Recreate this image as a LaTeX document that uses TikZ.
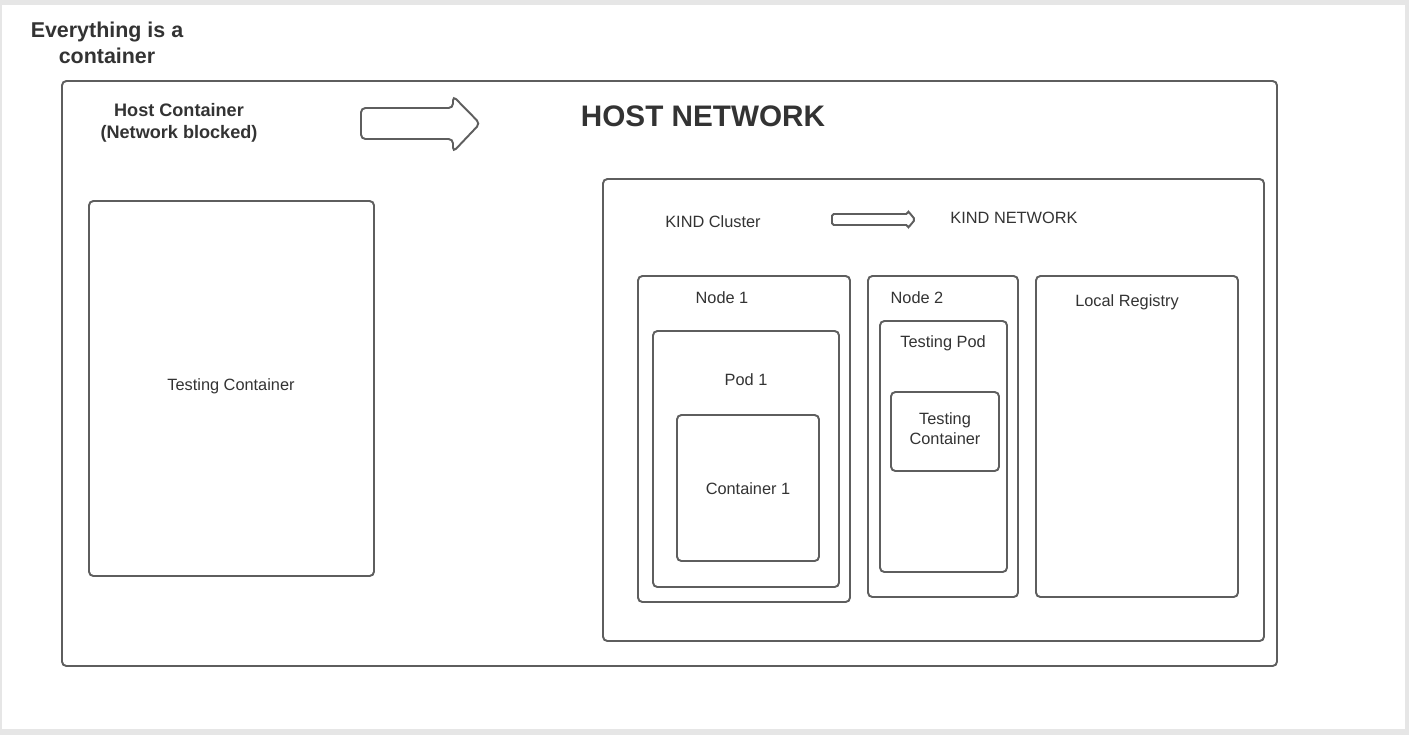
\documentclass[tikz,border=0pt]{standalone}
\usepackage{fontspec}
\setmainfont{Liberation Sans}
\definecolor{linegray}{HTML}{5E5E5E}
\definecolor{textgray}{HTML}{333333}
\definecolor{framegray}{HTML}{E6E6E6}
\begin{document}
\begin{tikzpicture}[x=0.02cm, y=-0.02cm,
  box/.style={draw=linegray, line width=1.1pt, rounded corners=2.5pt},
  lbl/.style={text=textgray, font=\fontsize{9.3}{11.3}\selectfont, align=center, inner sep=0pt},
  title/.style={text=textgray, font=\bfseries\fontsize{10.3}{12.5}\selectfont, align=center, inner sep=0pt}]
\useasboundingbox (0,0) rectangle (1409,735);
\fill[framegray] (0,0) rectangle (1409,735);
\fill[white] (2,5) rectangle (1405,729);
\draw[box] (62,81) rectangle (1277,666);
\draw[box] (89,201) rectangle (374,576);
\draw[box] (603,179) rectangle (1264,641);
\draw[box] (638,276) rectangle (850,602);
\draw[box] (653,331) rectangle (839,587);
\draw[box] (677,415) rectangle (819,561);
\draw[box] (868,276) rectangle (1018,597);
\draw[box] (880,321) rectangle (1007,572);
\draw[box] (891,392) rectangle (999,471);
\draw[box] (1036,276) rectangle (1238,597);
\draw[box] (361,108)--(453,108)--(453,96)--(480,123.5)--(453,152)--(453,139)--(361,139)--cycle;
\draw[box, rounded corners=1pt] (832,214)--(908,214)--(908,211)--(915,219.5)--(908,228)--(908,225)--(832,225)--cycle;
\node[title, font=\bfseries\fontsize{12.2}{14.7}\selectfont] (everything) at (107,42.5) {Everything is a\\container};
\node[title] (hostlbl) at (179,123) {Host Container\\(Network blocked)};
\node[title, font=\bfseries\fontsize{16.9}{20}\selectfont] (hostnet) at (703,116.5) {HOST NETWORK};
\node[lbl] (kindlbl) at (713,222) {KIND Cluster};
\node[lbl] (kindnet) at (1014,218) {KIND NETWORK};
\node[lbl] (node1lbl) at (722,298) {Node 1};
\node[lbl] (pod1lbl) at (746,380) {Pod 1};
\node[lbl] (cont1lbl) at (748,489) {Container 1};
\node[lbl] (node2lbl) at (917,298) {Node 2};
\node[lbl] (tpodlbl) at (943,343) {Testing Pod};
\node[lbl] (tcont2lbl) at (945,429) {Testing\\Container};
\node[lbl] (reglbl) at (1127,302) {Local Registry};
\node[lbl] (tcont1lbl) at (231,386) {Testing Container};
\end{tikzpicture}
\end{document}
